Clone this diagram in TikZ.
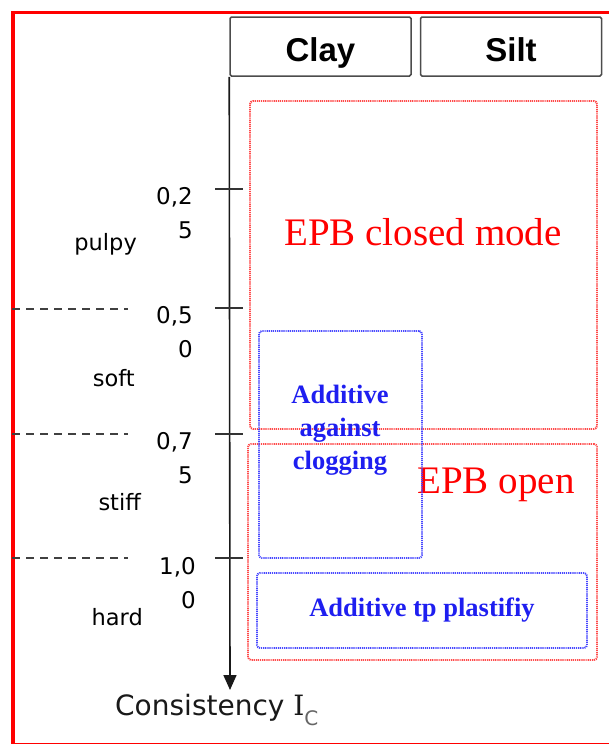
\documentclass[tikz,border=0pt]{standalone}
\usepackage{fontspec}
\setmainfont{Liberation Serif}
\setsansfont{DejaVu Sans}
\newfontfamily\headfont{Liberation Sans}
\newfontfamily\ifont{DejaVu Serif}
\usetikzlibrary{arrows.meta, positioning}
\definecolor{frame}{HTML}{FF0000}
\definecolor{mode}{HTML}{FF4A4A}
\definecolor{additive}{HTML}{1E1EF0}
\definecolor{dotblue}{HTML}{4848FF}

\begin{document}
\begin{tikzpicture}[
    x=1pt, y=-1pt,
    soilbox/.style={
      draw=black!70, line width=1.5pt, rounded corners=1.5pt,
      inner sep=0pt, minimum width=181pt, minimum height=59pt,
      text height=29.7pt, text depth=0pt,
      font=\headfont\bfseries\fontsize{33}{33}\selectfont},
    modebox/.style={
      draw=mode, line width=1.9pt, dash pattern=on 1.2pt off 0.9pt,
      rounded corners=3pt, inner sep=0pt},
    addbox/.style={
      draw=dotblue, line width=1.9pt, dash pattern=on 1.2pt off 0.9pt,
      rounded corners=3pt, inner sep=0pt},
    modelbl/.style={
      text=frame, inner sep=0pt,
      font=\rmfamily\fontsize{39}{39}\selectfont},
    addlbl/.style={
      text=additive, inner sep=0pt, align=center,
      font=\rmfamily\bfseries\fontsize{26.5}{33}\selectfont},
    ticklbl/.style={
      anchor=north east, inner sep=0pt, align=right, text=black,
      font=\sffamily\fontsize{23}{34}\selectfont},
    statelbl/.style={
      anchor=base east, inner sep=0pt, text=black,
      font=\sffamily\fontsize{22.5}{22.5}\selectfont},
    bound/.style={dash pattern=on 8pt off 6pt, line width=1.5pt, draw=black!75},
    ictick/.style={line width=1.4pt, draw=black!80},
    axisarr/.style={-{Triangle[length=15pt, width=13pt]}, line width=1.6pt, draw=black!90},
  ]

  \useasboundingbox (0,0) rectangle (609,744);
  \clip (0,0) rectangle (609,744);

  % ── Frame ──
  \draw[frame, line width=3.5pt] (13,12.5) rectangle (640,745);

  % ── Soil types ──
  \node[soilbox] (clay) at (320.5,46.5) {Clay};
  \node[soilbox, right=8pt of clay] (silt) {Silt};

  % ── EPB modes ──
  \node[modebox, minimum width=347pt, minimum height=328pt]
    (closed) at (423.5,265) {};
  \node[modelbl, anchor=base] (closedlbl) at (423,245) {EPB closed mode};

  \node[modebox, minimum width=349pt, minimum height=216pt]
    (open) at (422.5,552) {};
  \node[modelbl, anchor=base] (openlbl) at (496,493) {EPB open};

  % ── Additives ──
  \node[addbox, minimum width=163pt, minimum height=227pt]
    (clog) at (340.5,444.5) {};
  \node[addlbl] (cloglbl) at (340,430) {Additive\\against\\clogging};

  \node[addbox, addlbl, minimum width=330pt, minimum height=75pt]
    (plast) at (422,610.5) {Additive tp plastifiy};

  % ── Consistency axis ──
  \coordinate (axisend) at (230,690);
  \draw[axisarr] (clay.south west) -- (axisend);
  \node[anchor=base west, inner sep=0pt, text=black!90,
        font=\sffamily\fontsize{28}{28}\selectfont]
    (ic) at (115,715) {Consistency {\ifont I}\raisebox{-10pt}{\fontsize{20}{20}\selectfont\color{black!60}C}};

  \draw[ictick] (215,189) -- (243,189);
  \draw[ictick] (215,308) -- (243,308);
  \draw[ictick] (215,434) -- (243,434);
  \draw[ictick] (215,558) -- (243,558);

  \node[ticklbl] (t25)  at (193,187) {0,2\\5};
  \node[ticklbl] (t50)  at (193,306) {0,5\\0};
  \node[ticklbl] (t75)  at (193,432) {0,7\\5};
  \node[ticklbl] (t100) at (196,557) {1,0\\0};

  % ── State boundaries ──
  \draw[bound] (12,309) -- (128,309);
  \draw[bound] (12,434) -- (128,434);
  \draw[bound] (12,558) -- (128,558);

  \node[statelbl] (pulpy) at (137,250) {pulpy};
  \node[statelbl] (soft)  at (135,386) {soft};
  \node[statelbl] (stiff) at (141,510) {stiff};
  \node[statelbl] (hard)  at (143,625) {hard};

\end{tikzpicture}
\end{document}
